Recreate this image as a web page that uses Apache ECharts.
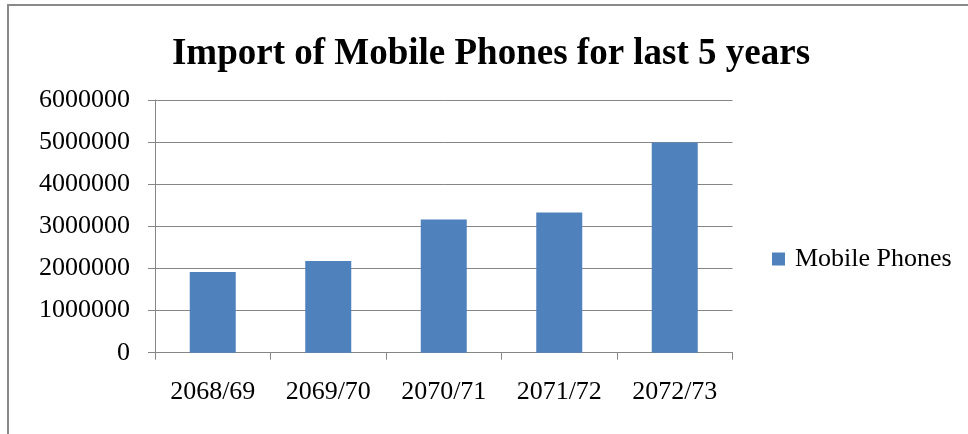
<!DOCTYPE html>
<html>
<head>
<meta charset="utf-8">
<script src="https://cdn.jsdelivr.net/npm/echarts@6/dist/echarts.min.js"></script>
<style>html,body{margin:0;padding:0;background:#fff;}#c{width:968px;height:434px;}</style>
</head>
<body>
<div id="c"></div>
<script>
const categories = ['2068/69', '2069/70', '2070/71', '2071/72', '2072/73'];
const mobilePhones = [1915000, 2180000, 3160000, 3330000, 4990000];
const seriesName = 'Mobile Phones';
const titleText = 'Import of Mobile Phones for last 5 years';

const chart = echarts.init(document.getElementById('c'), null, {renderer: 'canvas'});
const font = '"Liberation Serif", "Times New Roman", serif';
chart.setOption({
  animation: false,
  backgroundColor: '#fff',
  graphic: [{
    type: 'rect', silent: true, z: -1,
    shape: {x: 8, y: 5, width: 1000, height: 500},
    style: {fill: 'none', stroke: '#8a8a8a', lineWidth: 2}
  }],
  title: {
    text: titleText, left: 486, top: 49, textAlign: 'center', textVerticalAlign: 'middle',
    textStyle: {fontFamily: font, fontWeight: 'bold', fontSize: 37, color: '#000'}
  },
  legend: {
    data: [seriesName], left: 767, top: 241, orient: 'vertical',
    icon: 'rect', itemWidth: 13, itemHeight: 13, itemGap: 0,
    textStyle: {fontFamily: font, fontSize: 26, color: '#000', padding: [0, 0, 0, 5]}
  },
  grid: {left: 155, right: 235.5, top: 100, bottom: 81.3, containLabel: false},
  xAxis: {
    type: 'category', data: categories, boundaryGap: true,
    axisLine: {show: true, lineStyle: {color: '#868686', width: 1}},
    axisTick: {show: true, inside: false, length: 7, alignWithLabel: false, lineStyle: {color: '#868686'}},
    axisLabel: {fontFamily: font, fontSize: 26, color: '#000', margin: 26, interval: 0}
  },
  yAxis: {
    type: 'value', min: 0, max: 6000000, interval: 1000000,
    axisLine: {show: true, lineStyle: {color: '#868686', width: 1}},
    axisTick: {show: true, inside: false, length: 7, lineStyle: {color: '#868686'}},
    splitLine: {show: true, lineStyle: {color: '#868686', width: 1}},
    axisLabel: {fontFamily: font, fontSize: 26, color: '#000', margin: 25,
      formatter: function (v) { return String(v); }}
  },
  series: [{
    name: seriesName, type: 'bar', data: mobilePhones, barWidth: 46,
    itemStyle: {color: '#4F81BD'}
  }]
});
</script>
</body>
</html>
